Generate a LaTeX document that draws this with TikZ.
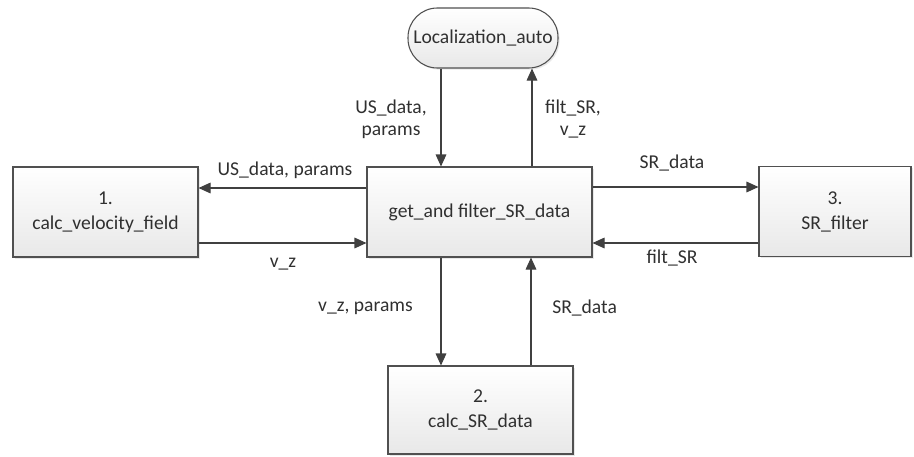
\documentclass[tikz,border=0pt]{standalone}
\usepackage{fontspec}
\setmainfont{Carlito}
\usetikzlibrary{arrows.meta,shadows}
\definecolor{edge}{HTML}{505050}
\definecolor{wire}{HTML}{404040}
\definecolor{txt}{HTML}{303030}
\tikzset{
  proc/.style={draw=edge, line width=0.8pt, top color=white, bottom color=black!9,
    drop shadow={shadow xshift=1.2pt, shadow yshift=-1.2pt, opacity=0.18},
    align=center, inner sep=0pt, text=txt,
    font=\fontsize{14.7}{18.75}\selectfont},
  term/.style={proc, rounded corners=22pt},
  flow/.style={draw=wire, line width=0.8pt, -{Triangle[length=9pt,width=8pt]}},
  lbl/.style={text=txt, inner sep=0pt, align=center,
    font=\fontsize{14.7}{16.5}\selectfont}
}
\begin{document}
\begin{tikzpicture}[x=0.75pt,y=-0.75pt]
\useasboundingbox (0,0) rectangle (914,457);
% process boxes
\node[term, minimum width=150*0.75pt, minimum height=60*0.75pt] (loc) at (483,38) {Localization\_auto};
\node[proc, minimum width=225*0.75pt, minimum height=90*0.75pt] (mid) at (479.5,212) {get\_and filter\_SR\_data};
\node[proc, minimum width=185*0.75pt, minimum height=90*0.75pt] (vel) at (105.5,212) {1.\\calc\_velocity\_field};
\node[proc, minimum width=152*0.75pt, minimum height=90*0.75pt] (flt) at (835,211.5) {3.\\SR\_filter};
\node[proc, minimum width=185*0.75pt, minimum height=88*0.75pt] (srd) at (480.5,410) {2.\\calc\_SR\_data};
% connectors
\draw[flow] (loc.south -| 441,0) -- (mid.north -| 441,0);
\draw[flow] (mid.north -| 532,0) -- (loc.south -| 532,0);
\draw[flow] (mid.west |- 0,188) -- (vel.east |- 0,188);
\draw[flow] (vel.east |- 0,243) -- (mid.west |- 0,243);
\draw[flow] (mid.east |- 0,187) -- (flt.west |- 0,187);
\draw[flow] (flt.west |- 0,243) -- (mid.east |- 0,243);
\draw[flow] (mid.south -| 441,0) -- (srd.north -| 441,0);
\draw[flow] (srd.north -| 531,0) -- (mid.south -| 531,0);
% labels
\node[lbl] (l1) at (391,119) {US\_data,\\params};
\node[lbl] (l2) at (573,119) {filt\_SR,\\v\_z};
\node[lbl] (l3) at (285,170) {US\_data, params};
\node[lbl] (l4) at (283,264) {v\_z};
\node[lbl] (l5) at (672,163) {SR\_data};
\node[lbl] (l6) at (672,258) {filt\_SR};
\node[lbl, anchor=east] (l7) at (413,308) {v\_z, params};
\node[lbl, anchor=west] (l8) at (552,308) {SR\_data};
\end{tikzpicture}
\end{document}
